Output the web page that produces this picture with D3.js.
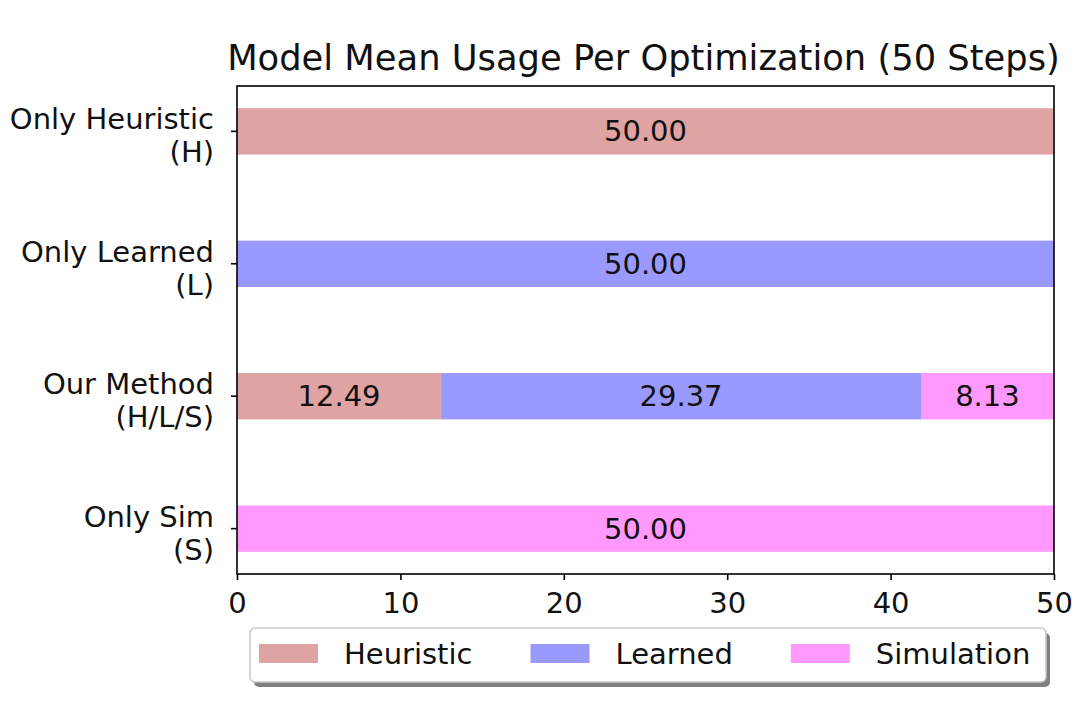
<!DOCTYPE html>
<html>
<head>
<meta charset="utf-8">
<script src="https://cdn.jsdelivr.net/npm/d3@7"></script>
<style>
  body { margin: 0; background: #fff; }
  text { font-family: "DejaVu Sans", sans-serif; fill: #111; }
</style>
</head>
<body>
<svg id="chart" width="1076" height="703"></svg>
<script>
// data
const categories = ["Only Heuristic\n(H)", "Only Learned\n(L)", "Our Method\n(H/L/S)", "Only Sim\n(S)"];
const heuristic = [50, 0, 12.49, 0];
const learned = [0, 50, 29.37, 0];
const simulation = [0, 0, 8.13, 50];
const seriesNames = ["Heuristic", "Learned", "Simulation"];
const colors = ["#dfa3a3", "#9999ff", "#ff99ff"];
const xTicks = [0, 10, 20, 30, 40, 50];

const svg = d3.select("#chart");
const plotL = 237, plotR = 1054, plotT = 86, plotB = 574;
const barH = 0.35;
const fs = "29px";

const x = d3.scaleLinear().domain([0, 50]).range([plotL, plotR]);
const y = d3.scaleLinear().domain([-0.3425, 3.3425]).range([plotT, plotB]);

svg.append("rect").attr("width", 1076).attr("height", 703).attr("fill", "#fff");

// stack the three series per category
const rows = categories.map((c, i) => ({ cat: c, i: i, vals: [heuristic[i], learned[i], simulation[i]] }));
const segs = [];
rows.forEach(r => {
    let acc = 0;
    r.vals.forEach((v, k) => {
        if (v > 0) segs.push({ i: r.i, k: k, x0: acc, x1: acc + v, v: v });
        acc += v;
    });
});

svg.selectAll(".bar")
    .data(segs)
    .enter()
    .append("rect")
    .attr("class", "bar")
    .attr("x", d => x(d.x0))
    .attr("width", d => x(d.x1) - x(d.x0))
    .attr("y", d => y(d.i - barH / 2))
    .attr("height", d => y(d.i + barH / 2) - y(d.i - barH / 2))
    .attr("fill", d => colors[d.k]);

svg.selectAll(".barlabel")
    .data(segs)
    .enter()
    .append("text")
    .attr("x", d => x((d.x0 + d.x1) / 2))
    .attr("y", d => y(d.i) + 10)
    .attr("text-anchor", "middle")
    .style("font-size", fs)
    .text(d => d.v.toFixed(2));

// frame
svg.append("rect")
    .attr("x", plotL).attr("y", plotT)
    .attr("width", plotR - plotL).attr("height", plotB - plotT)
    .attr("fill", "none").attr("stroke", "#000").attr("stroke-width", 1.6);

// x axis
const xAxis = svg.append("g")
    .attr("transform", "translate(0," + plotB + ")")
    .call(d3.axisBottom(x).tickValues(xTicks).tickSize(6).tickPadding(6).tickFormat(d3.format("d")));
xAxis.select(".domain").remove();
xAxis.selectAll("line").attr("stroke", "#000").attr("stroke-width", 1.6);
xAxis.selectAll("text").style("font-size", fs).style("font-family", "DejaVu Sans").attr("dy", "0.93em").attr("fill", "#111");

// y ticks and two-line labels
const yt = svg.selectAll(".ytick")
    .data(categories)
    .enter()
    .append("g")
    .attr("transform", (d, i) => "translate(" + plotL + "," + y(i) + ")");
yt.append("line").attr("x1", -6).attr("x2", 0).attr("stroke", "#000").attr("stroke-width", 1.6);
yt.each(function (d) {
    const t = d3.select(this).append("text")
        .attr("text-anchor", "end")
        .style("font-size", fs);
    d.split("\n").forEach((line, j) => {
        t.append("tspan").attr("x", -23).attr("y", -2 + j * 33).text(line);
    });
});

// title
svg.append("text")
    .attr("x", (plotL + plotR) / 2 - 2)
    .attr("y", 70)
    .attr("text-anchor", "middle")
    .style("font-size", "35.3px")
    .text("Model Mean Usage Per Optimization (50 Steps)");

// legend
const lg = svg.append("g");
lg.append("rect").attr("x", 254).attr("y", 633).attr("width", 796).attr("height", 54).attr("rx", 5).attr("fill", "#808080");
lg.append("rect").attr("x", 250).attr("y", 628).attr("width", 796).attr("height", 54).attr("rx", 5)
    .attr("fill", "#fff").attr("stroke", "#c8c8c8").attr("stroke-width", 1.5);
let lx = 259;
seriesNames.forEach((name, k) => {
    lg.append("rect").attr("x", lx).attr("y", 644).attr("width", 59).attr("height", 19).attr("fill", colors[k]);
    const t = lg.append("text").attr("x", lx + 85).attr("y", 664).style("font-size", fs).text(name);
    lx = lx + 85 + t.node().getComputedTextLength() + 58;
});
</script>
</body>
</html>
